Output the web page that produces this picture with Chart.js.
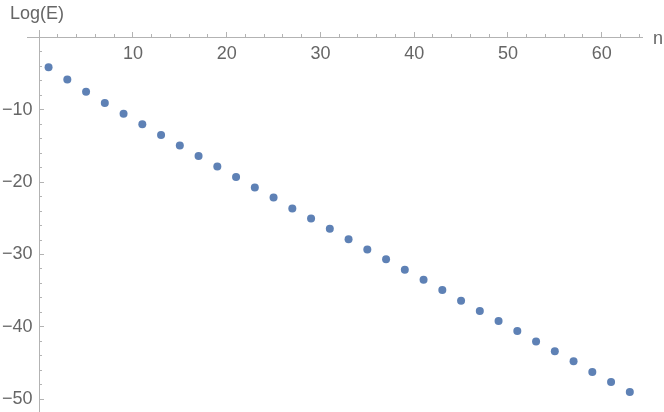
<!DOCTYPE html>
<html>
<head>
<meta charset="utf-8">
<script src="https://cdn.jsdelivr.net/npm/chart.js@4/dist/chart.umd.min.js"></script>
<style>
  html, body { margin: 0; padding: 0; background: #fff; }
  #wrap { width: 664px; height: 412px; }
</style>
</head>
<body>
<div id="wrap"><canvas id="myChart"></canvas></div>
<script>
// n values (odd) and log of the error
const nValues = [1, 3, 5, 7, 9, 11, 13, 15, 17, 19, 21, 23, 25, 27, 29, 31,
                 33, 35, 37, 39, 41, 43, 45, 47, 49, 51, 53, 55, 57, 59, 61, 63];
const logE = [-4.15, -5.85, -7.51, -9.07, -10.55, -12.03, -13.5, -14.94,
              -16.4, -17.84, -19.3, -20.74, -22.14, -23.65, -25.03, -26.45,
              -27.88, -29.31, -30.64, -32.12, -33.5, -34.89, -36.38, -37.79,
              -39.17, -40.55, -42.01, -43.36, -44.74, -46.22, -47.6, -48.99];

const xMajorTicks = [10, 20, 30, 40, 50, 60];
const xMinorTicks = [2, 4, 6, 8, 12, 14, 16, 18, 22, 24, 26, 28, 32, 34, 36, 38,
                     42, 44, 46, 48, 52, 54, 56, 58, 62, 64];
const yMajorTicks = [-10, -20, -30, -40, -50];
const yMinorTicks = [-2, -4, -6, -8, -12, -14, -16, -18, -22, -24, -26, -28,
                     -32, -34, -36, -38, -42, -44, -46, -48];

const xLabel = 'n';
const yLabel = 'Log(E)';

const axisGray = '#b3b3b3';
const textGray = '#666666';
const font = { family: 'Liberation Sans', size: 18 };

const X_MIN = -1.3, X_MAX = 64.3;
const Y_MIN = -51.75, Y_MAX = 1;

// axes sit at the origin, so they must not eat layout space
function noSpace(s) {
  if (s.isHorizontal()) s.height = 0; else s.width = 0;
  s.paddingLeft = s.paddingRight = s.paddingTop = s.paddingBottom = 0;
}
const setTicks = arr => s => { s.ticks = arr.map(v => ({ value: v })); };

function xScale(ticks, tickLen, showLabels, showBorder) {
  return {
    type: 'linear', axis: 'x', position: { y: 0 },
    min: X_MIN, max: X_MAX,
    afterBuildTicks: setTicks(ticks),
    afterFit: noSpace,
    grid: { drawOnChartArea: false, drawTicks: tickLen !== 0, tickLength: tickLen, tickColor: axisGray },
    border: { display: showBorder, color: axisGray },
    ticks: {
      display: showLabels, color: textGray, font: font, padding: 6,
      maxRotation: 0, autoSkip: false,
      callback: v => String(v)
    }
  };
}

function yScale(ticks, tickLen, showLabels, showBorder, atX) {
  return {
    type: 'linear', axis: 'y', position: { x: atX },
    min: Y_MIN, max: Y_MAX,
    afterBuildTicks: setTicks(ticks),
    afterFit: noSpace,
    grid: { drawOnChartArea: false, drawTicks: tickLen !== 0, tickLength: tickLen, tickColor: axisGray },
    border: { display: showBorder, color: axisGray },
    ticks: {
      display: showLabels, color: textGray, font: font,
      autoSkip: false,
      callback: v => '\u2212' + Math.abs(v)
    }
  };
}

const axisTitles = {
  id: 'axisTitles',
  afterDraw(chart) {
    const ctx = chart.ctx;
    ctx.save();
    ctx.fillStyle = textGray;
    ctx.font = '18px "Liberation Sans"';
    ctx.textAlign = 'left';
    ctx.textBaseline = 'alphabetic';
    ctx.fillText(yLabel, 10, 19);
    ctx.fillText(xLabel, chart.chartArea.right + 11, 44);
    ctx.restore();
  }
};

new Chart(document.getElementById('myChart'), {
  type: 'scatter',
  data: {
    datasets: [{
      data: nValues.map((n, i) => ({ x: n, y: logE[i] })),
      backgroundColor: 'rgb(94, 129, 181)',
      borderWidth: 0,
      pointRadius: 4,
      pointHoverRadius: 4
    }]
  },
  options: {
    responsive: true,
    maintainAspectRatio: false,
    animation: false,
    layout: { autoPadding: false, padding: { left: 27, right: 22, top: 30, bottom: 0 } },
    plugins: { legend: { display: false }, tooltip: { enabled: false } },
    scales: {
      x: xScale(xMajorTicks, 0, true, true),
      xMaj: xScale(xMajorTicks, -5, false, false),
      xMin: xScale(xMinorTicks, -3, false, false),
      y: yScale(yMajorTicks, -5, false, true, 0),
      yLab: yScale(yMajorTicks, 0, true, false, -0.7),
      yMin: yScale(yMinorTicks, -3, false, false, 0)
    }
  },
  plugins: [axisTitles]
});
</script>
</body>
</html>
